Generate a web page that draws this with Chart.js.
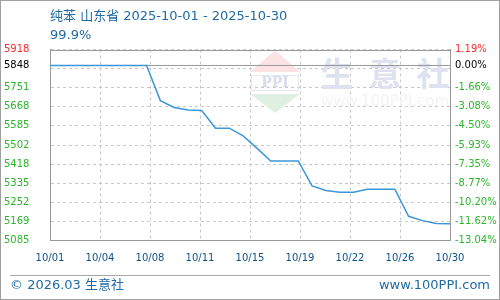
<!DOCTYPE html>
<html>
<head>
<meta charset="utf-8">
<script src="https://cdn.jsdelivr.net/npm/chart.js@4/dist/chart.umd.min.js"></script>
<style>
  body { margin: 0; background: #fff; }
  #wrap { position: relative; width: 500px; height: 300px; overflow: hidden; }
  #c { position: absolute; left: 0; top: 0; }
  .txt { position: absolute; white-space: nowrap; font-family: "DejaVu Sans", "Noto Sans CJK SC", sans-serif; font-size: 13px; line-height: 13px; color: #1f6aa3; }
  #frame { position: absolute; left: 0; top: 0; width: 498px; height: 298px; border: 1px solid #a0a0a0; pointer-events: none; }
  #sep { position: absolute; left: 10px; top: 275px; width: 480px; height: 1px; background: #a8a8a8; }
</style>
</head>
<body>
<div id="wrap">
  <canvas id="c" width="500" height="300"></canvas>
  <div class="txt" style="left:50px;top:9px;">纯苯 山东省 2025-10-01 - 2025-10-30</div>
  <div class="txt" style="left:50px;top:28px;">99.9%</div>
  <div id="sep"></div>
  <div class="txt" style="left:10px;top:278px;">© 2026.03 生意社</div>
  <div class="txt" style="right:10px;top:278px;">www.100PPI.com</div>
  <div id="frame"></div>
</div>
<script>
// 日期（每日一个点）
const dates = [
  "10/01", "10/02", "10/03", "10/04", "10/05", "10/06", "10/07", "10/08", "10/09", "10/10",
  "10/11", "10/12", "10/13", "10/14", "10/15", "10/16", "10/17", "10/18", "10/19", "10/20",
  "10/21", "10/22", "10/23", "10/24", "10/25", "10/26", "10/27", "10/28", "10/29", "10/30"
];

// 纯苯 山东省 价格（元/吨）
const prices = [
  5848, 5848, 5848, 5848, 5848, 5848, 5848, 5848, 5695, 5665,
  5654, 5652, 5575, 5575, 5541, 5488, 5432, 5432, 5432, 5323,
  5303, 5296, 5296, 5309, 5309, 5309, 5191, 5172, 5159, 5158
];

const basePrice = 5848;
const yMin = 5085.4;
const yMax = 5917.6;

// 坐标轴刻度文字
const xTickLabels = ["10/01", "10/04", "10/08", "10/11", "10/15", "10/19", "10/22", "10/26", "10/30"];
const leftTickLabels = ["5085", "5169", "5252", "5335", "5418", "5502", "5585", "5668", "5751", "", "5848", "5918"];
const rightTickLabels = ["-13.04%", "-11.62%", "-10.20%", "-8.77%", "-7.35%", "-5.93%", "-4.50%", "-3.08%", "-1.66%", "", "0.00%", "1.19%"];

const BASE_IDX = 10;
const TOP_IDX = 11;

// 10 等分网格 + 基准价
function yTickValues() {
  const step = (yMax - yMin) / 10;
  const vals = [];
  for (let i = 0; i < 10; i++) vals.push(yMin + i * step);
  vals.push(basePrice);
  vals.push(yMax);
  return vals.map(v => ({ value: v }));
}

function tickColor(ctx) {
  if (ctx.index === TOP_IDX) return "#ff2a2a";
  if (ctx.index === BASE_IDX) return "#000000";
  return "#2db52d";
}

const tickFont = { family: "DejaVu Sans", size: 10 };

// 水印 + 顶部边框
const watermark = {
  id: "watermark",
  beforeDatasetsDraw(chart) {
    const { ctx, chartArea } = chart;
    ctx.save();
    // logo
    ctx.fillStyle = "#fbe3e3";
    ctx.beginPath();
    ctx.moveTo(275, 50);
    ctx.lineTo(300, 72);
    ctx.lineTo(250, 72);
    ctx.closePath();
    ctx.fill();
    ctx.strokeStyle = "#e3e7f1";
    ctx.lineWidth = 1;
    ctx.strokeRect(251.5, 75.5, 47, 15);
    ctx.fillStyle = "#d6dcec";
    ctx.font = "bold 14px 'DejaVu Serif'";
    ctx.textAlign = "center";
    ctx.textBaseline = "middle";
    ctx.fillText("PPI", 275, 83.5);
    ctx.fillStyle = "#dff0e3";
    ctx.beginPath();
    ctx.moveTo(250, 94);
    ctx.lineTo(300, 94);
    ctx.lineTo(275, 113);
    ctx.closePath();
    ctx.fill();
    // 生意社
    ctx.fillStyle = "#dde2ee";
    ctx.font = "bold 33px 'Noto Sans CJK SC'";
    ctx.textAlign = "center";
    ctx.textBaseline = "alphabetic";
    ctx.fillText("生  意  社", 385, 86);
    ctx.fillStyle = "#f3f3f3";
    ctx.font = "15px 'DejaVu Sans'";
    ctx.fillText("www.100PPI.com", 385, 106);
    // 顶边
    ctx.strokeStyle = "#999999";
    ctx.beginPath();
    ctx.moveTo(chartArea.left, Math.round(chartArea.top) + 0.5);
    ctx.lineTo(chartArea.right, Math.round(chartArea.top) + 0.5);
    ctx.stroke();
    ctx.restore();
  }
};

new Chart(document.getElementById("c"), {
  type: "line",
  data: {
    datasets: [
      {
        label: "纯苯",
        data: prices.map((p, i) => ({ x: i, y: p })),
        borderColor: "#3b97d8",
        borderWidth: 1.5,
        pointRadius: 0,
        tension: 0,
        fill: false,
        order: 0
      },
      {
        label: "基准",
        data: [{ x: 0, y: basePrice }, { x: dates.length - 1, y: basePrice }],
        borderColor: "#999999",
        borderWidth: 1,
        pointRadius: 0,
        fill: false,
        order: 1
      }
    ]
  },
  options: {
    responsive: false,
    animation: false,
    layout: { padding: { left: 4, right: 3, top: 49.5, bottom: 0 } },
    plugins: { legend: { display: false }, tooltip: { enabled: false } },
    scales: {
      x: {
        type: "linear",
        min: 0,
        max: dates.length - 1,
        afterBuildTicks: s => {
          s.ticks = xTickLabels.map((_, i) => ({ value: i * (dates.length - 1) / (xTickLabels.length - 1) }));
        },
        afterFit: s => { s.height = 59.5; },
        ticks: {
          callback: (v, i) => xTickLabels[i],
          color: "#0f5288",
          font: tickFont,
          padding: 12,
          maxRotation: 0,
          autoSkip: false
        },
        grid: { color: "#c8c8c8", drawTicks: false },
        border: { display: true, color: "#999999", dash: [3, 3] }
      },
      y: {
        position: "left",
        min: yMin,
        max: yMax,
        afterBuildTicks: s => { s.ticks = yTickValues(); },
        afterFit: s => { s.width = 46; },
        ticks: {
          callback: (v, i) => leftTickLabels[i],
          color: tickColor,
          font: tickFont,
          crossAlign: "far",
          autoSkip: false
        },
        grid: {
          drawTicks: false,
          color: ctx => (ctx.index === BASE_IDX ? "rgba(0,0,0,0)" : "#c8c8c8")
        },
        border: { display: true, color: "#999999", dash: [3, 3] }
      },
      y2: {
        position: "right",
        min: yMin,
        max: yMax,
        afterBuildTicks: s => { s.ticks = yTickValues(); },
        afterFit: s => { s.width = 47; },
        ticks: {
          callback: (v, i) => rightTickLabels[i],
          color: tickColor,
          font: tickFont,
          padding: 5,
          crossAlign: "near",
          autoSkip: false
        },
        grid: { display: false, drawTicks: false },
        border: { display: true, color: "#999999" }
      }
    }
  },
  plugins: [watermark]
});
</script>
</body>
</html>
